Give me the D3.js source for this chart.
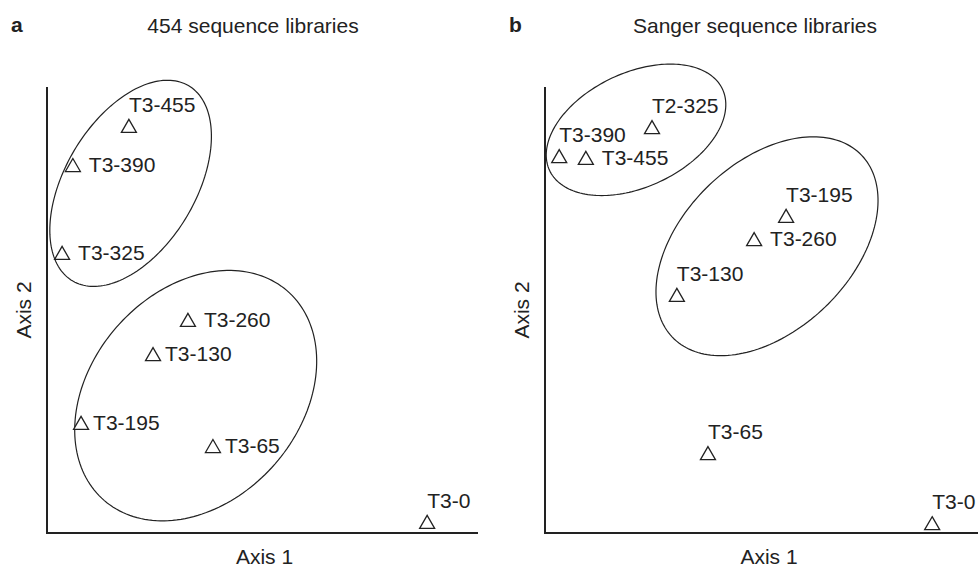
<!DOCTYPE html>
<html lang="en">
<head>
    <meta charset="UTF-8">
    <title>454 vs Sanger sequence libraries</title>
    <style>
        body, html {
          margin: 0;
          width: 100%;
          height: 100%;
          background: #fff;
        }

        svg {
          display: block;
        }

        text {
            font-family: "Liberation Sans", Arial, sans-serif;
            font-size: 21px;
            fill: #222;
        }

        .axis-line {
            stroke: #222;
            stroke-width: 2px;
        }

        .group-ellipse {
            fill: none;
            stroke: #222;
            stroke-width: 1.2px;
        }

        .point {
            fill: #fff;
            stroke: #222;
            stroke-width: 1.3px;
        }

        .panel-letter {
            font-weight: bold;
        }
    </style>
</head>
<body>
    <svg width="978" height="567"></svg>

    <script src="https://d3js.org/d3.v7.min.js"></script>
    <script>

        // panel a: 454 libraries (ordination scores, axis units 0-100)
        const labelsA = ["T3-455", "T3-390", "T3-325", "T3-260", "T3-130", "T3-195", "T3-65", "T3-0"];
        const axis1A  = [19.0, 6.0, 3.5, 32.7, 24.6, 7.9, 38.5, 88.2];
        const axis2A  = [91.3, 82.5, 62.8, 47.8, 40.1, 24.7, 19.5, 2.5];
        const placeA  = ["above", "rightsp", "rightsp", "rightsp", "right", "right", "right", "above"];

        // panel b: Sanger libraries
        const labelsB = ["T2-325", "T3-390", "T3-455", "T3-195", "T3-260", "T3-130", "T3-65", "T3-0"];
        const axis1B  = [24.1, 3.2, 9.2, 54.3, 47.1, 29.7, 36.7, 87.2];
        const axis2B  = [91.0, 84.5, 84.1, 71.1, 65.9, 53.4, 17.9, 2.2];
        const placeB  = ["above", "above", "rightsp", "above", "rightsp", "above", "above", "above"];

        // cluster outlines: centre, semi axes (axis units) and tilt in degrees
        const groupsA = [
            { cx: 19.4, cy: 78.4, a: 25.7, b: 15.0, angle: 57.4 },
            { cx: 34.5, cy: 30.8, a: 31.7, b: 23.9, angle: 45 }
        ];
        const groupsB = [
            { cx: 20.5, cy: 90.4, a: 21.5, b: 12.8, angle: 25 },
            { cx: 50.0, cy: 64.3, a: 29.5, b: 18.9, angle: 43.7 }
        ];

        const panels = [
            { letter: "a", title: "454 sequence libraries", left: 47, width: 431,
              labels: labelsA, xs: axis1A, ys: axis2A, place: placeA, groups: groupsA },
            { letter: "b", title: "Sanger sequence libraries", left: 545, width: 444,
              labels: labelsB, xs: axis1B, ys: axis2B, place: placeB, groups: groupsB }
        ];

        const plotTop = 87, plotBottom = 533;
        const svg = d3.select("svg");

        // open triangle, centred on its bounding box
        const triangle = "M0,-6.5L7.5,6.5L-7.5,6.5Z";

        panels.forEach(function(p) {
            const x = d3.scaleLinear().domain([0, 100]).range([p.left, p.left + p.width]);
            const y = d3.scaleLinear().domain([0, 100]).range([plotBottom, plotTop]);

            const g = svg.append("g");

            // panel letter + title
            g.append("text")
                .attr("class", "panel-letter")
                .attr("x", p.left - 36)
                .attr("y", 32)
                .text(p.letter);

            g.append("text")
                .attr("x", p.letter === "a" ? 253 : 755)
                .attr("y", 33)
                .attr("text-anchor", "middle")
                .text(p.title);

            // L-shaped axes, no ticks
            g.append("line")
                .attr("class", "axis-line")
                .attr("x1", x(0)).attr("y1", y(100))
                .attr("x2", x(0)).attr("y2", y(0));

            g.append("line")
                .attr("class", "axis-line")
                .attr("x1", x(0) - 1).attr("y1", y(0))
                .attr("x2", x(100)).attr("y2", y(0));

            g.append("text")
                .attr("x", (x(0) + x(100)) / 2 + 2)
                .attr("y", 564)
                .attr("text-anchor", "middle")
                .text("Axis 1");

            g.append("text")
                .attr("transform", `translate(${x(0) - 16},${(y(0) + y(100)) / 2}) rotate(-90)`)
                .attr("text-anchor", "middle")
                .text("Axis 2");

            // ellipses drawn as paths in data space
            const line = d3.line().x(d => x(d[0])).y(d => y(d[1])).curve(d3.curveLinearClosed);
            g.selectAll(".group-ellipse")
                .data(p.groups)
                .enter().append("path")
                .attr("class", "group-ellipse")
                .attr("d", function(e) {
                    const t = e.angle * Math.PI / 180;
                    const pts = d3.range(0, 2 * Math.PI, Math.PI / 90).map(function(s) {
                        const u = e.a * Math.cos(s), v = e.b * Math.sin(s);
                        return [e.cx + u * Math.cos(t) - v * Math.sin(t),
                                e.cy + u * Math.sin(t) + v * Math.cos(t)];
                    });
                    return line(pts);
                });

            const pts = p.labels.map((lab, i) => ({ label: lab, x: p.xs[i], y: p.ys[i], place: p.place[i] }));

            const node = g.selectAll(".pt")
                .data(pts)
                .enter().append("g")
                .attr("transform", d => `translate(${x(d.x)},${y(d.y)})`);

            node.append("path")
                .attr("class", "point")
                .attr("d", triangle);

            node.append("text")
                .attr("x", d => d.place === "above" ? 0 : (d.place === "rightsp" ? 16 : 12))
                .attr("y", d => d.place === "above" ? -14 : 7)
                .text(d => d.label);
        });

    </script>
</body>
</html>
